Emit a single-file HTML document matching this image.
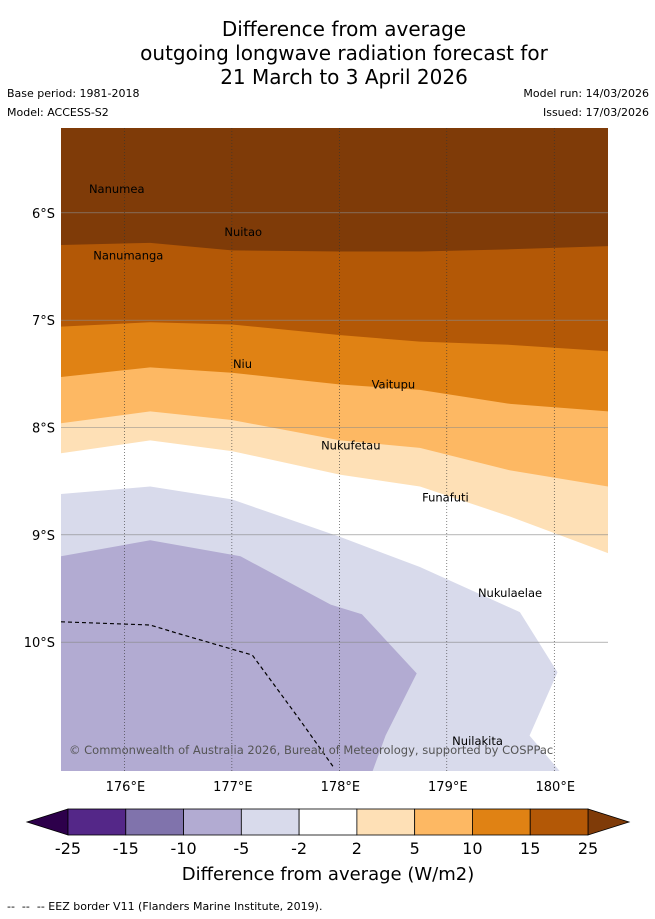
<!DOCTYPE html>
<html><head><meta charset="utf-8"><style>
body{margin:0;background:#fff;font-family:"DejaVu Sans",sans-serif;}
#wrap{position:relative;width:655px;height:919px;overflow:hidden;}
.t{position:absolute;white-space:nowrap;}
</style></head><body>
<div id="wrap">
<div class="t" style="left:0;width:688px;top:17px;text-align:center;font-size:20px;line-height:24px;">Difference from average<br>outgoing longwave radiation forecast for<br>21 March to 3 April 2026</div>
<div class="t" style="left:7px;top:87px;font-size:11px;">Base period: 1981-2018</div>
<div class="t" style="left:7px;top:106px;font-size:11px;">Model: ACCESS-S2</div>
<div class="t" style="right:6px;top:87px;font-size:11px;">Model run: 14/03/2026</div>
<div class="t" style="right:6px;top:106px;font-size:11px;">Issued: 17/03/2026</div>
<svg id="map" width="655" height="919" style="position:absolute;left:0;top:0"></svg>
<div class="t" style="left:7px;top:900px;font-size:11px;">-- &nbsp;-- &nbsp;-- EEZ border V11 (Flanders Marine Institute, 2019).</div>
</div>
<script>
const lonPts=[175.41,176.24,177.0,178.01,178.75,179.59,180.5];
const lvl25=[6.30,6.28,6.35,6.36,6.36,6.34,6.31];
const lvl15=[7.06,7.02,7.04,7.14,7.20,7.23,7.29];
const lvl10=[7.53,7.44,7.49,7.60,7.65,7.78,7.85];
const lvl5=[7.96,7.85,7.93,8.12,8.19,8.40,8.55];
const lvl2=[8.24,8.12,8.22,8.44,8.55,8.83,9.17];
const neg2Lon=[175.41,176.24,177.0,178.01,178.75,179.68,180.03,179.77,180.05];
const neg2Lat=[8.62,8.55,8.67,9.02,9.30,9.72,10.28,10.87,11.2];
const neg5Lon=[175.41,176.24,177.08,177.92,178.21,178.72,178.43,178.31];
const neg5Lat=[9.20,9.05,9.20,9.65,9.74,10.29,10.87,11.2];
const eezLon=[175.41,176.24,176.47,177.19,177.63,177.95];
const eezLat=[9.81,9.84,9.91,10.12,10.72,11.17];
const lonTicks=[176,177,178,179,180];
const latTicks=[6,7,8,9,10];
const islands=[["Nanumea",175.67,5.78],["Nuitao",176.93,6.18],["Nanumanga",175.71,6.40],["Niu",177.01,7.41],["Vaitupu",178.3,7.6],["Nukufetau",177.83,8.17],["Funafuti",178.77,8.65],["Nukulaelae",179.29,9.54],["Nuilakita",179.05,10.92]];
const cbLabels=["-25","-15","-10","-5","-2","2","5","10","15","25"];
const cbColors=["#542788","#8073ac","#b2abd2","#d8daeb","#ffffff","#fee0b6","#fdb863","#e08214","#b35806"];
const X0=61,X1=608,Y0=128,Y1=771;
const lonMin=175.41,lonMax=180.5,latMin=5.21,latMax=11.2;
const xs=l=>X0+(l-lonMin)/(lonMax-lonMin)*(X1-X0);
const ys=l=>Y0+(l-latMin)/(latMax-latMin)*(Y1-Y0);
const svg=document.getElementById('map');
const NS='http://www.w3.org/2000/svg';
const FF='DejaVu Sans';
function mk(t,a,p){const e=document.createElementNS(NS,t);for(const k in a)e.setAttribute(k,a[k]);(p||svg).appendChild(e);return e;}
const clip=mk('clipPath',{id:'mc'});mk('rect',{x:X0,y:Y0,width:X1-X0,height:Y1-Y0},clip);
const g=mk('g',{'clip-path':'url(#mc)'});
function bandBelow(lats,color,name){
  let d='M'+X0+','+Y1;
  lonPts.forEach((l,i)=>{d+=' L'+xs(l)+','+ys(lats[i]);});
  d+=' L'+X1+','+Y1+' Z';
  const p=mk('path',{d:d,fill:color},g);
  
  
}
const bg=mk('rect',{x:X0,y:Y0,width:X1-X0,height:Y1-Y0,fill:'#7f3b08'},g);


bandBelow(lvl25,'#b35806','band-15-25');
bandBelow(lvl15,'#e08214','band-10-15');
bandBelow(lvl10,'#fdb863','band-5-10');
bandBelow(lvl5,'#fee0b6','band-2-5');
bandBelow(lvl2,'#ffffff','band-neutral');
function poly(lo,la,color,name){
  let d='M'+X0+','+Y1;
  lo.forEach((l,i)=>{d+=' L'+xs(l)+','+ys(la[i]);});
  d+=' Z';
  const p=mk('path',{d:d,fill:color},g);
  
  
}
poly(neg2Lon,neg2Lat,'#d8daeb','band-neg2-neg5');
poly(neg5Lon,neg5Lat,'#b2abd2','band-neg5-neg10');
latTicks.forEach(l=>{
  const ln=mk('line',{x1:X0,x2:X1,y1:ys(l),y2:ys(l),stroke:'#888','stroke-width':0.6},g);
  
  
  const t=mk('text',{x:55,y:ys(l)+5,'text-anchor':'end','font-size':13,'font-family':FF});
  t.textContent=l+'°S';
  
  
});
lonTicks.forEach(l=>{
  const ln=mk('line',{x1:xs(l),x2:xs(l),y1:Y0,y2:Y1,stroke:'#333','stroke-width':0.6,'stroke-dasharray':'1,2'},g);
  
  
  const t=mk('text',{x:xs(l)+1,y:791,'text-anchor':'middle','font-size':13,'font-family':FF});
  t.textContent=l+'°E';
  
  
});
let ed='';eezLon.forEach((l,i)=>{ed+=(i?' L':'M')+xs(l)+','+ys(eezLat[i]);});
const eez=mk('path',{d:ed,fill:'none',stroke:'#000','stroke-width':1.2,'stroke-dasharray':'4,3'},g);


islands.forEach(a=>{
  const t=mk('text',{x:xs(a[1]),y:ys(a[2])+4,'font-size':11.5,'font-family':FF},g);
  t.textContent=a[0];
  
  
});
const cr=mk('text',{x:69,y:754,'font-size':11.5,fill:'#555','font-family':FF},g);
cr.textContent='© Commonwealth of Australia 2026, Bureau of Meteorology, supported by COSPPac';


const CX0=68,CX1=588,CY0=809,CY1=835,sw=(CX1-CX0)/cbColors.length;
const la=mk('path',{d:`M${CX0},${CY0} L27,${(CY0+CY1)/2} L${CX0},${CY1} Z`,fill:'#2d004b',stroke:'#000','stroke-width':0.8});


const ra=mk('path',{d:`M${CX1},${CY0} L629,${(CY0+CY1)/2} L${CX1},${CY1} Z`,fill:'#7f3b08',stroke:'#000','stroke-width':0.8});


cbColors.forEach((c,i)=>{
  const r=mk('rect',{x:CX0+i*sw,y:CY0,width:sw,height:CY1-CY0,fill:c,stroke:'#000','stroke-width':0.8});
  
  
});
cbLabels.forEach((s,i)=>{
  const t=mk('text',{x:CX0+i*sw,y:854,'text-anchor':'middle','font-size':16,'font-family':FF});
  t.textContent=s;
  
  
});
const ct=mk('text',{x:328,y:880,'text-anchor':'middle','font-size':18,'font-family':FF});
ct.textContent='Difference from average (W/m2)';


</script>
</body></html>
